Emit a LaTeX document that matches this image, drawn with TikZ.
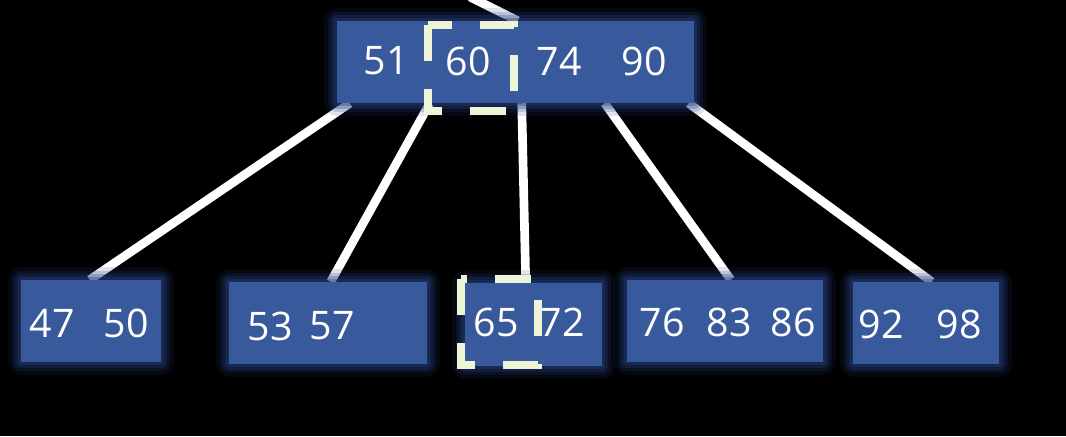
\documentclass[tikz,border=0pt]{standalone}
\usepackage{fontspec}
\setmainfont{Open Sans}
\usetikzlibrary{fit,calc}
\pgfdeclarelayer{bg}
\pgfsetlayers{bg,main}
\definecolor{boxc}{RGB}{56,89,155}
\definecolor{glowc}{RGB}{38,62,125}
\definecolor{hlc}{RGB}{238,244,214}
\tikzset{
  box/.style={fill=boxc, inner sep=0pt, draw=none,
    preaction={draw=glowc, line width=19pt, opacity=.14, line join=round},
    preaction={draw=glowc, line width=14pt, opacity=.2, line join=round},
    preaction={draw=glowc, line width=9pt, opacity=.28, line join=round},
    preaction={draw=glowc, line width=4pt, opacity=.35, line join=round}},
  num/.style={text=white, font=\fontsize{29.5}{30}\selectfont, inner sep=0pt},
  hilite/.style={draw=hlc, line width=6pt, dash pattern=on 27pt off 21pt},
  conn/.style={draw=white, line width=6.5pt}
}
\begin{document}
\begin{tikzpicture}[x=0.75pt,y=-0.75pt]
\useasboundingbox (0,0) rectangle (1066,436);
\begin{pgfonlayer}{bg}
\fill[black] (0,0) rectangle (1066,436);
\end{pgfonlayer}
% boxes
\node[box, fit={(337,21) (694,103)}] (top) {};
\node[box, fit={(21,280) (161,362)}] (b1) {};
\node[box, fit={(229,282) (427,364)}] (b2) {};
\node[box, fit={(465,283) (602,366)}] (b3) {};
\node[box, fit={(627,280) (823,362)}] (b4) {};
\node[box, fit={(853,282) (999,364)}] (b5) {};
% keys
\node[num] (k51) at (386,61) {51};
\node[num] (k60) at (468,61) {60};
\node[num] (k74) at (559,61) {74};
\node[num] (k90) at (644,61) {90};
\node[num] (k47) at (52,323.5) {47};
\node[num] (k50) at (126,323.5) {50};
\node[num] (k53) at (270,326) {53};
\node[num] (k57) at (332,326) {57};
\node[num] (k65) at (496,322) {65};
\node[num] (k72) at (562,322) {72};
\node[num] (k76) at (662,322.5) {76};
\node[num] (k83) at (729,322.5) {83};
\node[num] (k86) at (793,322.5) {86};
\node[num] (k92) at (881,324.5) {92};
\node[num] (k98) at (959,324.5) {98};
% connectors
\coordinate (up) at (470,-3);
\begin{pgfonlayer}{bg}
\draw[conn] (up) -- ($(top.north west)+(181,0)$);
\draw[conn] ($(top.south west)+(13,0)$) -- ($(b1.north west)+(69,0)$);
\draw[conn] ($(top.south west)+(93,0)$) -- ($(b2.north west)+(102,0)$);
\draw[conn] ($(top.south west)+(185,0)$) -- ($(b3.north west)+(61,0)$);
\draw[conn] ($(top.south west)+(268,0)$) -- ($(b4.north west)+(104,0)$);
\draw[conn] ($(top.south west)+(352,0)$) -- ($(b5.north west)+(79,0)$);
\end{pgfonlayer}
% highlights
\draw[hilite] (428,25) rectangle (514,111);
\draw[hilite] (461,279) rectangle (538,365);
\end{tikzpicture}
\end{document}
